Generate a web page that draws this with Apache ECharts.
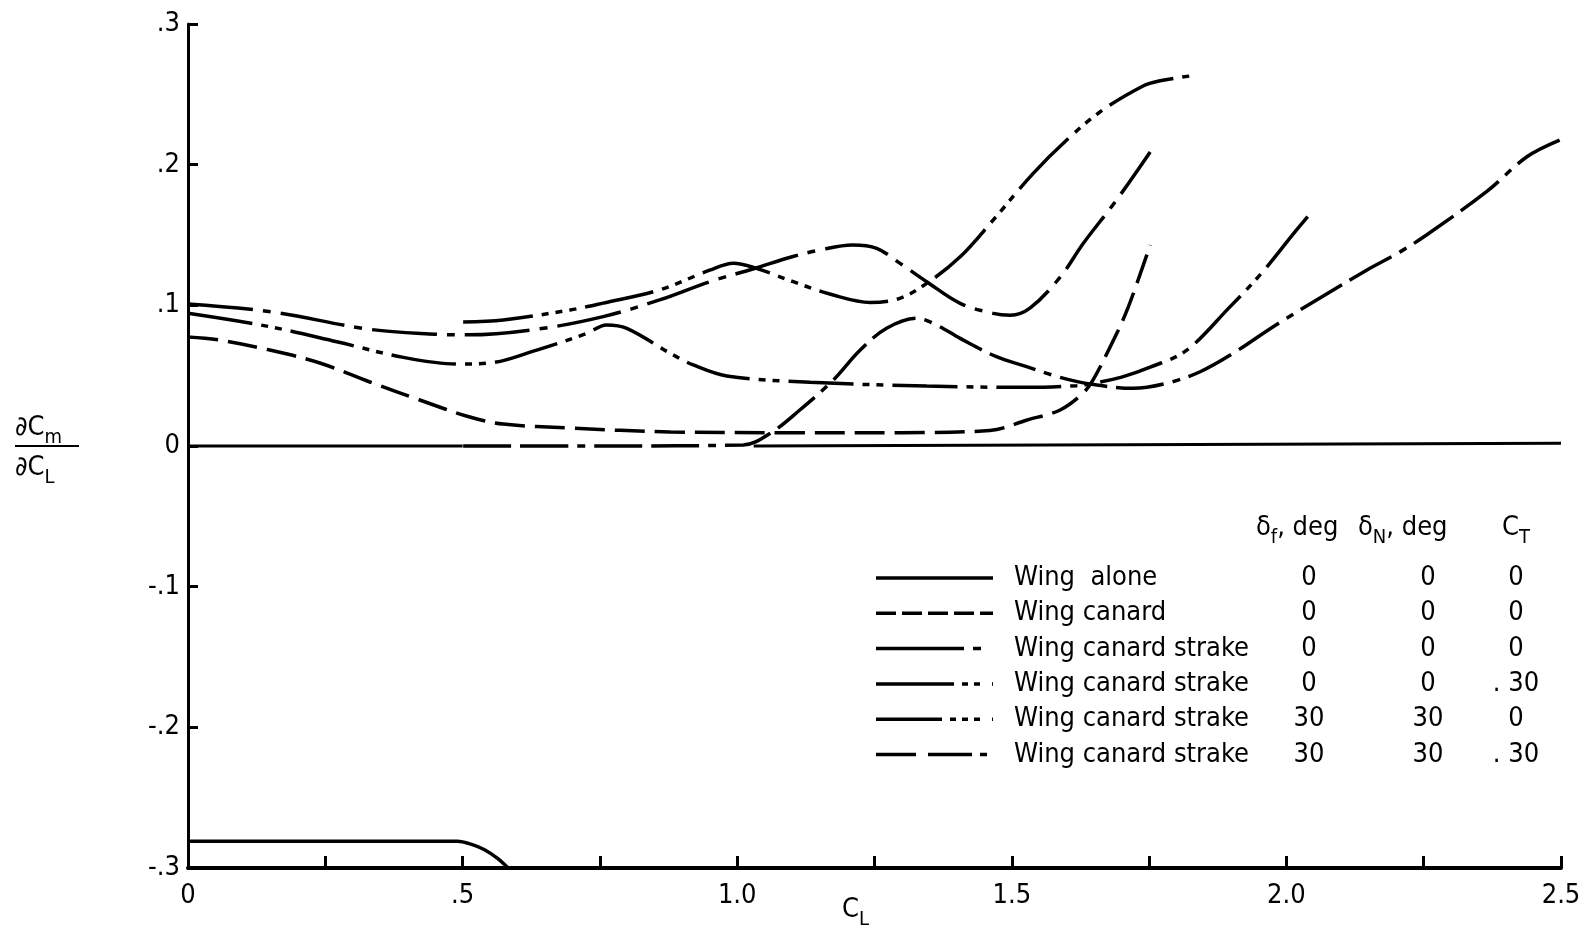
<!DOCTYPE html>
<html><head><meta charset="utf-8">
<script src="https://cdn.jsdelivr.net/npm/echarts@6/dist/echarts.min.js"></script>
<style>html,body{margin:0;padding:0;background:#fff}#c{width:1593px;height:934px}</style>
</head><body><div id="c"></div>
<script>
const FONT = "'DejaVu Sans Condensed','Liberation Sans Narrow','DejaVu Sans',sans-serif";

// ---- data ----
const seriesNames = ['Wing  alone', 'Wing canard', 'Wing canard strake', 'Wing canard strake', 'Wing canard strake', 'Wing canard strake'];
const deltaF = ['0', '0', '0', '0', '30', '30'];
const deltaN = ['0', '0', '0', '0', '30', '30'];
const thrustC = ['0', '0', '0', '. 30', '0', '. 30'];
const yTickLabels = { '0.3': '.3', '0.2': '.2', '0.1': '.1', '0': '0', '-0.1': '-.1', '-0.2': '-.2', '-0.3': '-.3' };
const xTickLabels = { '0': '0', '0.5': '.5', '1': '1.0', '1.5': '1.5', '2': '2.0', '2.5': '2.5' };

const wingAlone = [[0, -0.281], [0.25, -0.281], [0.49, -0.281], [0.515, -0.283], [0.54, -0.287], [0.563, -0.293], [0.583, -0.3]];
const wingCanard = [[0, 0.0775], [0.058, 0.0753], [0.149, 0.0682], [0.24, 0.059], [0.331, 0.0455], [0.422, 0.0327], [0.513, 0.0206], [0.574, 0.0156], [0.696, 0.0128], [0.878, 0.010], [1.1, 0.0095], [1.3, 0.0095], [1.46, 0.011], [1.528, 0.0185], [1.588, 0.0256], [1.63, 0.0377], [1.648, 0.047], [1.679, 0.0704], [1.71, 0.0967], [1.752, 0.1429]];
const wcs000 = [[0, 0.101], [0.15, 0.0955], [0.33, 0.083], [0.45, 0.0795], [0.51, 0.079], [0.635, 0.083], [0.756, 0.092], [0.86, 0.104], [0.95, 0.1168], [1.03, 0.126], [1.10, 0.1345], [1.15, 0.1393], [1.21, 0.1429], [1.254, 0.1405], [1.296, 0.13], [1.345, 0.1168], [1.406, 0.1014], [1.466, 0.0943], [1.497, 0.093], [1.533, 0.098], [1.588, 0.12], [1.63, 0.144], [1.691, 0.175], [1.752, 0.209]];
const wcs0030 = [[0, 0.0943], [0.149, 0.0848], [0.271, 0.0741], [0.392, 0.063], [0.489, 0.0583], [0.544, 0.0588], [0.635, 0.0682], [0.726, 0.080], [0.762, 0.086], [0.799, 0.0836], [0.878, 0.0659], [0.92, 0.0576], [0.981, 0.0498], [1.133, 0.0453], [1.345, 0.0426], [1.527, 0.0417], [1.618, 0.0429], [1.642, 0.0441], [1.70, 0.049], [1.752, 0.056], [1.818, 0.068], [1.895, 0.098], [1.955, 0.123], [2.013, 0.151], [2.043, 0.165]];
const wcs30300 = [[0.501, 0.0881], [0.574, 0.0896], [0.696, 0.0967], [0.756, 0.1016], [0.859, 0.111], [0.95, 0.125], [0.993, 0.130], [1.035, 0.1263], [1.102, 0.1168], [1.175, 0.1073], [1.242, 0.1021], [1.296, 0.105], [1.345, 0.1156], [1.406, 0.1345], [1.466, 0.1606], [1.539, 0.1938], [1.60, 0.2175], [1.661, 0.2376], [1.739, 0.2559], [1.77, 0.2596], [1.824, 0.263]];
const wcs303030 = [[0.501, 0], [0.75, 0], [1.011, 0.0007], [1.06, 0.009], [1.114, 0.0256], [1.175, 0.0469], [1.224, 0.0682], [1.272, 0.0837], [1.327, 0.0908], [1.363, 0.086], [1.406, 0.0765], [1.472, 0.0635], [1.527, 0.0564], [1.588, 0.0488], [1.642, 0.0441], [1.721, 0.041], [1.782, 0.0446], [1.843, 0.0528], [1.903, 0.0659], [1.976, 0.0848], [2.055, 0.1038], [2.146, 0.125], [2.207, 0.138], [2.255, 0.150], [2.365, 0.181], [2.438, 0.2056], [2.498, 0.2175]];
const zeroLine = [[0, 0], [0.5, 0], [0.75, '-'], [1.03, 0], [2.5, 0.002]];

// ---- styles ----
const dashes = ['solid', [30, 10], [65, 10, 8, 10], [65, 9, 7, 7, 7, 9], [70, 9, 7, 7, 7, 7, 7, 9], [48, 9, 48, 9, 8, 9]];
const legendDashes = ['solid', [20, 6], [88, 9, 8, 12], [78, 8, 6, 6, 6, 12], [66, 8, 6, 6, 6, 6, 6, 12], [40, 12, 44, 8, 7, 12]];
const allData = [wingAlone, wingCanard, wcs000, wcs0030, wcs30300, wcs303030];

const chart = echarts.init(document.getElementById('c'));
const LW = 3.5;
const series = allData.map((d, i) => ({
  type: 'line', data: d, showSymbol: false, smooth: 0.35, silent: true,
  lineStyle: { color: '#000', width: LW, type: dashes[i], cap: 'butt' }
}));
series.push({ type: 'line', data: zeroLine, showSymbol: false, silent: true, connectNulls: false,
  lineStyle: { color: '#000', width: 3, type: 'solid' } });

// legend built as graphic elements
const graphic = [];
const rowY0 = 578, rowDY = 35.3;
const txt = (text, x, y, align, extra) => Object.assign({ type: 'text', silent: true, style: Object.assign({
  text: text, x: x, y: y, align: align, verticalAlign: 'middle', fill: '#000', fontFamily: FONT, fontSize: 27 }, extra || {}) });
const subRich = (shift) => ({
  a: { fontFamily: FONT, fontSize: 27, lineHeight: 40, verticalAlign: 'middle', color: '#000' },
  s: { fontFamily: FONT, fontSize: 20, lineHeight: 40 - 2 * (20 - shift) + 0, verticalAlign: 'bottom', color: '#000' }
});
for (let i = 0; i < 6; i++) {
  const y = rowY0 + i * rowDY;
  graphic.push({ type: 'line', silent: true, shape: { x1: 876, y1: y, x2: 993, y2: y },
    style: { stroke: '#000', lineWidth: LW, lineDash: legendDashes[i] === 'solid' ? null : legendDashes[i] } });
  graphic.push(txt(seriesNames[i], 1014, y, 'left'));
  graphic.push(txt(deltaF[i], 1309, y, 'center'));
  graphic.push(txt(deltaN[i], 1428, y, 'center'));
  graphic.push(txt(thrustC[i], 1516, y, 'center'));
}
// column headers
graphic.push(txt('{a|δ}{s|f}{a|, deg}', 1256, 528, 'left', { rich: subRich(12) }));
graphic.push(txt('{a|δ}{s|N}{a|, deg}', 1358, 528, 'left', { rich: subRich(12) }));
graphic.push(txt('{a|C}{s|T}', 1502, 528, 'left', { rich: subRich(12) }));
// y axis title (fraction)
graphic.push(txt('{a|∂C}{s|m}', 15, 428, 'left', { rich: subRich(8) }));
graphic.push({ type: 'line', silent: true, shape: { x1: 15, y1: 446, x2: 79, y2: 446 }, style: { stroke: '#000', lineWidth: 2 } });
graphic.push(txt('{a|∂C}{s|L}', 15, 468, 'left', { rich: subRich(12) }));
// x axis title
graphic.push(txt('{a|C}{s|L}', 842, 910, 'left', { rich: subRich(12) }));

chart.setOption({
  animation: false,
  backgroundColor: '#fff',
  grid: { left: 188, right: 32, top: 24, bottom: 66 },
  xAxis: {
    type: 'value', min: 0, max: 2.5, interval: 0.25,
    axisLine: { onZero: false, lineStyle: { color: '#000', width: 4 } },
    axisTick: { inside: true, length: 12, lineStyle: { color: '#000', width: 3 } },
    splitLine: { show: false },
    axisLabel: { margin: 14, color: '#000', fontFamily: FONT, fontSize: 27,
      formatter: v => { const k = String(Math.round(v * 100) / 100); return xTickLabels[k] !== undefined ? xTickLabels[k] : ''; } }
  },
  yAxis: {
    type: 'value', min: -0.3, max: 0.3, interval: 0.1,
    axisLine: { onZero: false, lineStyle: { color: '#000', width: 3 } },
    axisTick: { inside: true, length: 10, lineStyle: { color: '#000', width: 3 } },
    splitLine: { show: false },
    axisLabel: { margin: 8, color: '#000', fontFamily: FONT, fontSize: 27,
      formatter: v => { const k = String(Math.round(v * 10) / 10); return yTickLabels[k] !== undefined ? yTickLabels[k] : ''; } }
  },
  series: series,
  graphic: graphic
});
</script></body></html>
